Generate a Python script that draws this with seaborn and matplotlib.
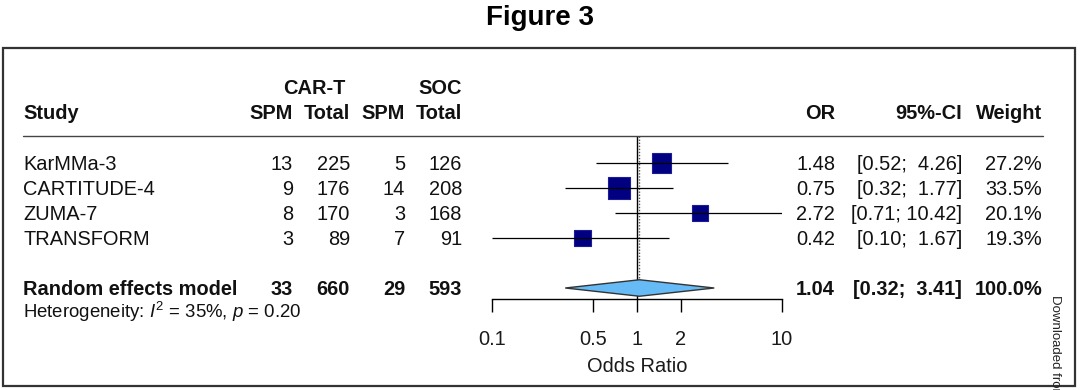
import numpy as np
import pandas as pd
import matplotlib
matplotlib.use('Agg')
import matplotlib.pyplot as plt
import seaborn as sns
from matplotlib.lines import Line2D
from matplotlib.patches import Rectangle
import matplotlib.transforms as mtransforms

# Study data
studies = ['KarMMa-3', 'CARTITUDE-4', 'ZUMA-7', 'TRANSFORM']
cart_spm = [13, 9, 8, 3]
cart_total = [225, 176, 170, 89]
soc_spm = [5, 14, 3, 7]
soc_total = [126, 208, 168, 91]
odds_ratio = [1.48, 0.75, 2.72, 0.42]
ci_low = [0.52, 0.32, 0.71, 0.10]
ci_high = [4.26, 1.77, 10.42, 1.67]
weight = [27.2, 33.5, 20.1, 19.3]

# Random effects model
pooled_or = 1.04
pooled_low = 0.32
pooled_high = 3.41
pooled_weight = 100.0
i2 = 35
p_het = 0.20

x_ticks = [0.1, 0.5, 1, 2, 10]
x_tick_labels = ['0.1', '0.5', '1', '2', '10']

sns.set_theme(style='white')
plt.rcParams['font.family'] = ['Liberation Sans', 'DejaVu Sans']
plt.rcParams['mathtext.fontset'] = 'custom'
plt.rcParams['mathtext.rm'] = 'Liberation Sans'
plt.rcParams['mathtext.it'] = 'Liberation Sans:italic'

W, H = 1080, 390
fig = plt.figure(figsize=(W / 100, H / 100), dpi=100)
fs = 14.4

# forest plot axes: log x from 0.1 to 10, y in row units (25 px per row)
ax_left, ax_right = 492, 782
ax_top, ax_bottom = 136, 299
row0 = 163
ppr = 25.0
ax = fig.add_axes([ax_left / W, 1 - ax_bottom / H, (ax_right - ax_left) / W, (ax_bottom - ax_top) / H])
ax.set_xscale('log')
ax.set_xlim(0.1, 10)
ax.set_ylim((ax_bottom - row0) / ppr, (ax_top - row0) / ppr)

rows = np.arange(len(studies))
pooled_row = 5

df = pd.DataFrame({'study': studies, 'or': odds_ratio, 'lo': ci_low, 'hi': ci_high,
                   'weight': weight, 'row': rows})

# reference lines
ax.axvline(1, color='black', lw=1, zorder=1)
diamond_h = 0.33
ax.vlines(pooled_or, (ax_top - row0) / ppr, pooled_row - diamond_h, color='#555555',
          lw=1, linestyles=(0, (1, 1.2)), zorder=1)

# squares, area proportional to weight
max_area = 240
wmin, wmax = min(weight), max(weight)
sns.scatterplot(data=df, x='or', y='row', size='weight',
                sizes=(max_area * wmin / wmax, max_area), size_norm=(wmin, wmax),
                marker='s', color='#000080', edgecolor='#1c1c9a', linewidth=0.8,
                legend=False, ax=ax, zorder=2)
ax.hlines(df['row'], df['lo'], df['hi'], color='black', lw=0.9, zorder=3)

# pooled diamond
ax.fill([pooled_low, pooled_or, pooled_high, pooled_or],
        [pooled_row, pooled_row - diamond_h, pooled_row, pooled_row + diamond_h],
        facecolor='#66BBF6', edgecolor='#333333', lw=1, zorder=3)

for s in ['top', 'left', 'right']:
    ax.spines[s].set_visible(False)
ax.spines['bottom'].set_color('black')
ax.spines['bottom'].set_linewidth(1)
ax.set_yticks([])
ax.set_xticks(x_ticks)
ax.set_xticklabels(x_tick_labels)
ax.xaxis.set_minor_locator(matplotlib.ticker.NullLocator())
ax.tick_params(axis='x', direction='out', length=9.4, width=1, color='black',
               pad=13, labelsize=fs, labelcolor='#1a1a1a', bottom=True)
ax.set_xlabel('Odds Ratio', fontsize=fs, labelpad=5.5, color='#1a1a1a')
ax.set_ylabel('')

# table text: x in figure pixels, y in row units
tr = mtransforms.blended_transform_factory(fig.transFigure, ax.transData)
base = 0.29  # baseline offset from row centre


def put(xpx, y, s, ha='right', bold=False, size=fs):
    ax.text(xpx / W, y, s, transform=tr, ha=ha, va='baseline', fontsize=size,
            fontweight='bold' if bold else 'normal', color='#111111', clip_on=False)


hdr1 = (94 - row0) / ppr
hdr2 = (119 - row0) / ppr
put(346, hdr1, 'CAR-T', bold=True)
put(462, hdr1, 'SOC', bold=True)
put(23, hdr2, 'Study', ha='left', bold=True)
put(293, hdr2, 'SPM', bold=True)
put(350, hdr2, 'Total', bold=True)
put(405, hdr2, 'SPM', bold=True)
put(462, hdr2, 'Total', bold=True)
put(835, hdr2, 'OR', bold=True)
put(962, hdr2, '95%-CI', bold=True)
put(1042, hdr2, 'Weight', bold=True)

for i in range(len(studies)):
    y = rows[i] + base
    put(23, y, studies[i], ha='left')
    put(293, y, str(cart_spm[i]))
    put(350, y, str(cart_total[i]))
    put(405, y, str(soc_spm[i]))
    put(462, y, str(soc_total[i]))
    put(835, y, f'{odds_ratio[i]:.2f}')
    put(962, y, f'[{ci_low[i]:.2f}; {ci_high[i]:5.2f}]')
    put(1042, y, f'{weight[i]:.1f}%')

y = pooled_row + base
put(23, y, 'Random effects model', ha='left', bold=True)
put(293, y, str(sum(cart_spm)), bold=True)
put(350, y, str(sum(cart_total)), bold=True)
put(405, y, str(sum(soc_spm)), bold=True)
put(462, y, str(sum(soc_total)), bold=True)
put(835, y, f'{pooled_or:.2f}', bold=True)
put(962, y, f'[{pooled_low:.2f}; {pooled_high:5.2f}]', bold=True)
put(1042, y, f'{pooled_weight:.1f}%', bold=True)

het_y = (318 - row0) / ppr
put(23, het_y, r'Heterogeneity: $\mathit{I}^2$ = ' + f'{i2}%, ' + r'$\mathit{p}$ = ' + f'{p_het:.2f}',
    ha='left', size=13.4)

# header rule
fig.add_artist(Line2D([23 / W, 1043 / W], [1 - ax_top / H, 1 - ax_top / H],
                      transform=fig.transFigure, color='#444444', lw=1))

# outer frame
fig.add_artist(Rectangle((3 / W, 4 / H), (1075 - 3) / W, (386 - 48) / H,
                         transform=fig.transFigure, fill=False, edgecolor='#333333', lw=1.6))

fig.text(0.5, 1 - 25 / H, 'Figure 3', ha='center', va='baseline', fontsize=20,
         fontweight='bold', color='black')
# side watermark, cut by the bottom edge as in the source image
fig.text(1055 / W, 1 - 295 / H, 'Downloaded from', rotation=270, ha='center', va='top',
         fontsize=9.5, color='#222222')

fig.savefig('out.png', dpi=100)
